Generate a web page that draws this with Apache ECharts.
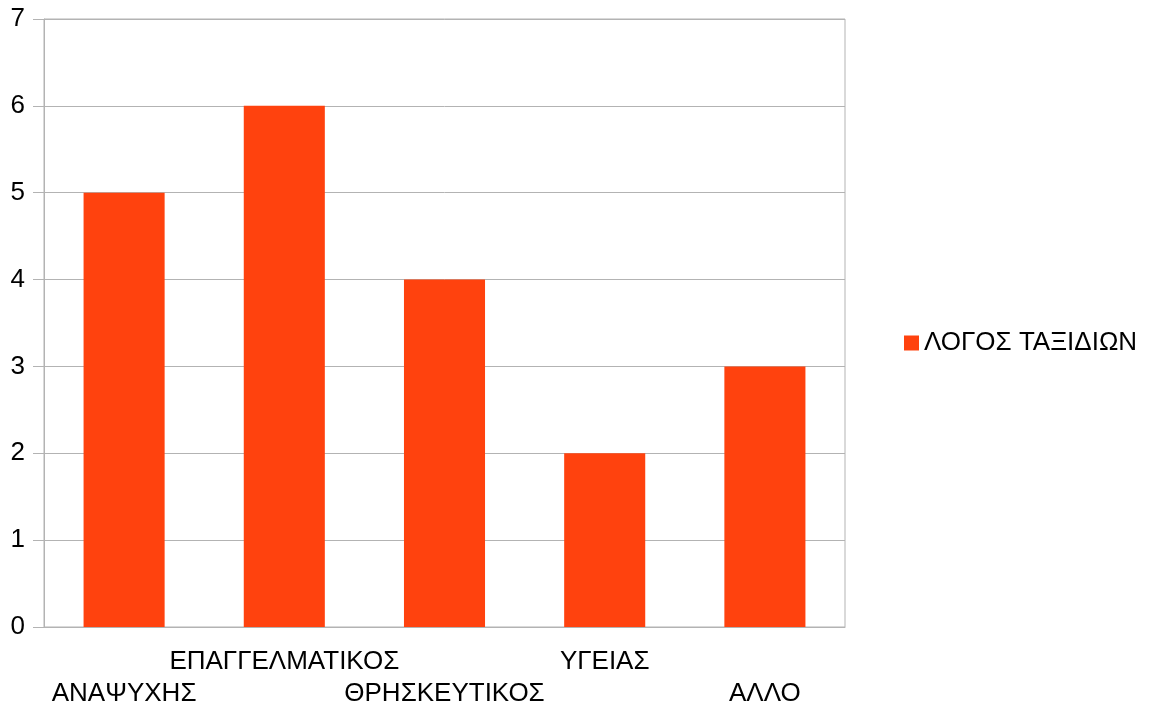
<!DOCTYPE html>
<html>
<head>
<meta charset="utf-8">
<script src="https://cdn.jsdelivr.net/npm/echarts@6/dist/echarts.min.js"></script>
<style>
  html, body { margin: 0; padding: 0; background: #fff; }
  #chart { width: 1149px; height: 708px; }
</style>
</head>
<body>
<div id="chart"></div>
<script>
const categories = ['ΑΝΑΨΥΧΗΣ', 'ΕΠΑΓΓΕΛΜΑΤΙΚΟΣ', 'ΘΡΗΣΚΕΥΤΙΚΟΣ', 'ΥΓΕΙΑΣ', 'ΑΛΛΟ']
const seriesName = 'ΛΟΓΟΣ ΤΑΞΙΔΙΩΝ'
const values = [5, 6, 4, 2, 3]

const chart = echarts.init(document.getElementById('chart'))
const font = 'Liberation Sans, Arial, sans-serif'
const gray = '#b3b3b3'

const option = {
  animation: false,
  textStyle: { fontFamily: font },
  grid: {
    left: 44,
    right: 304,
    top: 19,
    bottom: 81,
    outerBoundsMode: 'none',
    show: true,
    borderColor: gray,
    borderWidth: 1
  },
  legend: {
    orient: 'vertical',
    left: 899,
    top: 325,
    itemWidth: 15,
    itemHeight: 15,
    icon: 'rect',
    textStyle: { fontSize: 26, color: '#000', fontFamily: font }
  },
  xAxis: {
    type: 'category',
    data: categories,
    axisLine: { lineStyle: { color: gray } },
    axisTick: { length: 9, lineStyle: { color: gray } },
    axisLabel: {
      interval: 0,
      margin: 19,
      color: '#000',
      fontSize: 26,
      lineHeight: 32,
      // alternate labels between two rows, as in the original
      formatter: (v, i) => (i % 2 ? v + '\n ' : ' \n' + v)
    }
  },
  yAxis: {
    type: 'value',
    min: 0,
    max: 7,
    interval: 1,
    axisLine: { show: true, lineStyle: { color: gray } },
    axisTick: { show: true, length: 11, lineStyle: { color: gray } },
    splitLine: { lineStyle: { color: gray } },
    axisLabel: { margin: 19, color: '#000', fontSize: 26 }
  },
  series: [{
    name: seriesName,
    type: 'bar',
    data: values,
    barWidth: '50.6%',
    itemStyle: { color: '#ff420e' }
  }]
}
chart.setOption(option)
</script>
</body>
</html>
